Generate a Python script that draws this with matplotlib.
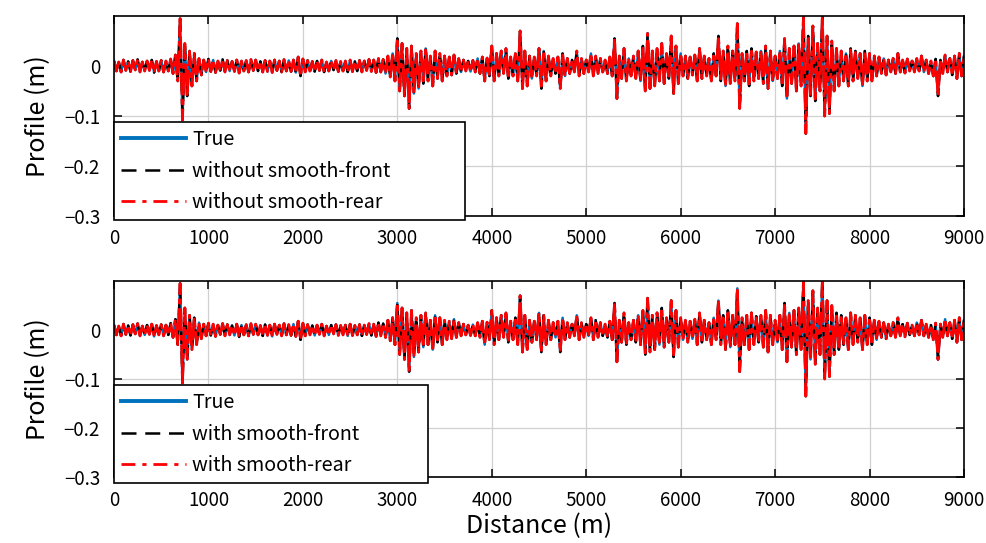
import numpy as np
import matplotlib.pyplot as plt

plt.rcParams['font.family'] = ['Noto Sans CJK JP', 'DejaVu Sans']

# --- profile readings (m), peaks ---
# upward peaks at 0, 50, ..., 9000 m
upper = [
    0.010, 0.008, 0.012, 0.009, 0.011, 0.013, 0.008, 0.010, 0.012, 0.009,
    0.011, 0.010, 0.014, 0.022, 0.095, 0.045, 0.030, 0.025, 0.015, 0.012,
    0.014, 0.012, 0.010, 0.013, 0.011, 0.009, 0.012, 0.010, 0.011, 0.013,
    0.012, 0.009, 0.011, 0.010, 0.012, 0.010, 0.013, 0.011, 0.012, 0.018,
    0.014, 0.011, 0.009, 0.010, 0.012, 0.008, 0.010, 0.011, 0.009, 0.010,
    0.012, 0.009, 0.011, 0.010, 0.013, 0.012, 0.015, 0.013, 0.020, 0.025,
    0.055, 0.045, 0.035, 0.040, 0.025, 0.030, 0.035, 0.020, 0.030, 0.025,
    0.020, 0.018, 0.022, 0.015, 0.012, 0.010, 0.011, 0.015, 0.018, 0.016,
    0.040, 0.025, 0.030, 0.035, 0.018, 0.025, 0.070, 0.030, 0.020, 0.018,
    0.035, 0.030, 0.020, 0.015, 0.018, 0.025, 0.015, 0.012, 0.030, 0.015,
    0.012, 0.025, 0.020, 0.015, 0.012, 0.018, 0.055, 0.020, 0.035, 0.015,
    0.020, 0.030, 0.040, 0.065, 0.030, 0.035, 0.045, 0.025, 0.060, 0.040,
    0.025, 0.020, 0.018, 0.022, 0.035, 0.020, 0.015, 0.025, 0.060, 0.030,
    0.040, 0.030, 0.085, 0.025, 0.030, 0.035, 0.028, 0.030, 0.040, 0.030,
    0.020, 0.030, 0.055, 0.035, 0.040, 0.045, 0.100, 0.060, 0.080, 0.045,
    0.100, 0.060, 0.050, 0.035, 0.030, 0.025, 0.035, 0.030, 0.025, 0.030,
    0.025, 0.020, 0.018, 0.015, 0.012, 0.015, 0.025, 0.012, 0.014, 0.010,
    0.015, 0.020, 0.012, 0.010, 0.014, 0.012, 0.022, 0.015, 0.020, 0.025,
    0.020,
]
# downward peaks at 25, 75, ..., 8975 m
lower = [
    -0.010, -0.012, -0.009, -0.011, -0.008, -0.012, -0.010, -0.009, -0.013, -0.010,
    -0.012, -0.010, -0.015, -0.030, -0.108, -0.060, -0.040, -0.030, -0.018, -0.012,
    -0.011, -0.013, -0.009, -0.012, -0.010, -0.011, -0.014, -0.010, -0.012, -0.009,
    -0.010, -0.012, -0.011, -0.013, -0.009, -0.012, -0.010, -0.011, -0.013, -0.020,
    -0.012, -0.010, -0.011, -0.009, -0.012, -0.010, -0.008, -0.011, -0.010, -0.012,
    -0.011, -0.010, -0.012, -0.009, -0.011, -0.013, -0.012, -0.015, -0.022, -0.030,
    -0.050, -0.060, -0.085, -0.055, -0.045, -0.035, -0.030, -0.040, -0.025, -0.030,
    -0.020, -0.018, -0.015, -0.012, -0.010, -0.011, -0.012, -0.015, -0.030, -0.020,
    -0.030, -0.020, -0.015, -0.025, -0.020, -0.030, -0.045, -0.040, -0.025, -0.020,
    -0.045, -0.030, -0.020, -0.015, -0.045, -0.020, -0.015, -0.012, -0.020, -0.015,
    -0.012, -0.020, -0.015, -0.012, -0.015, -0.020, -0.065, -0.025, -0.030, -0.020,
    -0.025, -0.030, -0.050, -0.045, -0.040, -0.030, -0.035, -0.025, -0.055, -0.035,
    -0.020, -0.025, -0.018, -0.030, -0.025, -0.020, -0.030, -0.020, -0.030, -0.040,
    -0.035, -0.030, -0.085, -0.030, -0.040, -0.030, -0.025, -0.035, -0.045, -0.030,
    -0.025, -0.040, -0.065, -0.035, -0.050, -0.040, -0.135, -0.060, -0.070, -0.050,
    -0.100, -0.095, -0.050, -0.040, -0.030, -0.040, -0.030, -0.025, -0.040, -0.030,
    -0.030, -0.020, -0.015, -0.018, -0.012, -0.015, -0.012, -0.014, -0.010, -0.012,
    -0.010, -0.012, -0.015, -0.020, -0.060, -0.015, -0.012, -0.018, -0.025, -0.020,
]

distance = np.arange(0, 9000.1, 25.0)
profile = np.zeros(len(distance))
profile[0::2] = upper
profile[1::2] = lower

xticks = list(range(0, 9001, 1000))
yticks = [-0.3, -0.2, -0.1, 0]
labels_top = ['True', 'without smooth-front', 'without smooth-rear']
labels_bot = ['True', 'with smooth-front', 'with smooth-rear']

BLUE = '#0072BD'
RED = '#FF0000'

W, H = 987.0, 543.0
fig = plt.figure(figsize=(9.87, 5.43), dpi=100)
ax1 = fig.add_axes([114 / W, 1 - 216 / H, 850 / W, 200 / H])
ax2 = fig.add_axes([114 / W, 1 - 477 / H, 850 / W, 196 / H])

# legend boxes in figure pixels: (left, top, right, bottom)
leg_boxes = [(114, 122, 465, 222), (114, 385, 428, 485)]

for ax, labs, box in [(ax1, labels_top, leg_boxes[0]),
                      (ax2, labels_bot, leg_boxes[1])]:
    ax.plot(distance, profile, color=BLUE, lw=1.8, label=labs[0])
    ax.plot(distance, profile, color='black', lw=1.8, ls=(0, (5, 3)), label=labs[1])
    ax.plot(distance, profile, color=RED, lw=2.0, ls=(0, (8, 1.5, 2, 1.5)), label=labs[2])
    ax.set_xlim(0, 9000)
    ax.set_ylim(-0.3, 0.1)
    ax.set_xticks(xticks)
    ax.set_yticks(yticks)
    ax.set_yticklabels(['−0.3', '−0.2', '−0.1', '0'])
    ax.grid(True, color='#d0d0d0', lw=0.9)
    ax.set_axisbelow(True)
    ax.tick_params(direction='in', top=True, right=True, length=6, width=1.1,
                   labelsize=13.5)
    ax.tick_params(axis='x', pad=9)
    ax.tick_params(axis='y', pad=10)
    for s in ax.spines.values():
        s.set_linewidth(1.2)
    ax.set_ylabel('Profile (m)', fontsize=18, labelpad=9)
    l, t, r, b = box
    leg = ax.legend(loc='upper left', mode='expand',
                    bbox_to_anchor=(l / W, 1 - b / H, (r - l) / W, (b - t) / H),
                    bbox_transform=fig.transFigure, fontsize=14.2,
                    handlelength=3.3, labelspacing=0.53, handletextpad=0.3,
                    borderpad=0.36, borderaxespad=0, fancybox=False,
                    framealpha=1, edgecolor='black')
    leg.get_frame().set_linewidth(1.2)
    leg.get_lines()[0].set_linewidth(2.8)
    leg.get_lines()[1].set_dashes([6, 3.5])
    leg.get_lines()[2].set_dashes([5, 2.5, 1.5, 2.5])

ax2.set_xlabel('Distance (m)', fontsize=18, labelpad=2)

fig.savefig('out.png', dpi=100)
